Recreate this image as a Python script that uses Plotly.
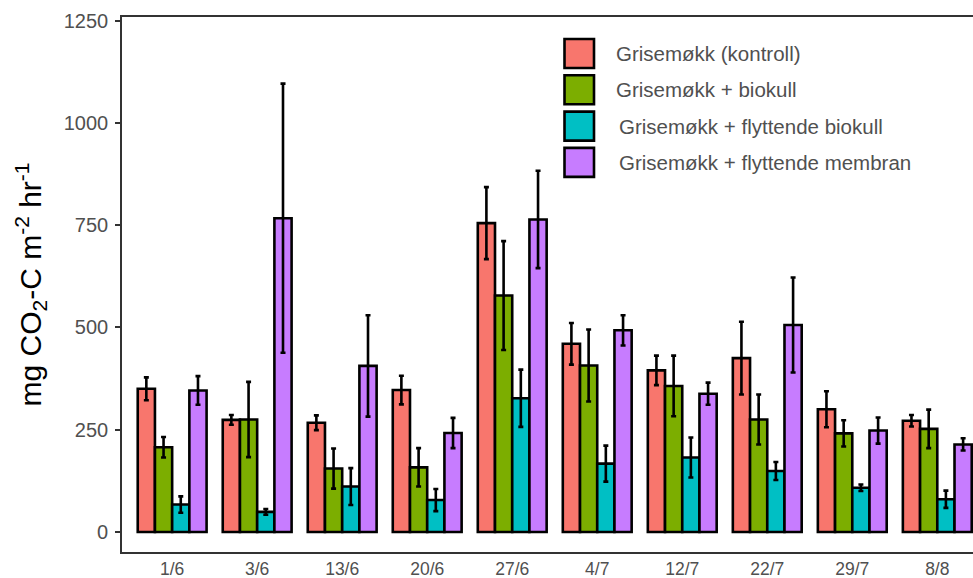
import plotly.graph_objects as go

# Sampling dates
dates = ["1/6", "3/6", "13/6", "20/6", "27/6", "4/7", "12/7", "22/7", "29/7", "8/8"]

# Treatments
treatments = [
    "Grisemøkk (kontroll)",
    "Grisemøkk + biokull",
    "Grisemøkk + flyttende biokull",
    "Grisemøkk + flyttende membran",
]

# Mean CO2-C flux (mg m-2 hr-1) per treatment
kontroll = [350, 274, 267, 347, 755, 460, 395, 425, 300, 272]
biokull = [207, 275, 155, 158, 578, 407, 357, 275, 241, 252]
flyt_biokull = [67, 49, 111, 78, 327, 167, 182, 149, 108, 80]
flyt_membran = [346, 767, 406, 242, 764, 493, 338, 506, 248, 214]

# Error bar half-widths
kontroll_err = [28, 12, 18, 35, 88, 51, 36, 89, 44, 14]
biokull_err = [25, 92, 49, 47, 133, 88, 74, 61, 32, 47]
flyt_biokull_err = [20, 7, 45, 27, 70, 44, 49, 22, 8, 21]
flyt_membran_err = [35, 329, 124, 37, 119, 37, 27, 116, 32, 15]

series = [kontroll, biokull, flyt_biokull, flyt_membran]
errors = [kontroll_err, biokull_err, flyt_biokull_err, flyt_membran_err]
colors = ["#F8766D", "#7CAE00", "#00BFC4", "#C77CFF"]

W, H = 973, 578
L, R, T, B = 122, 0, 17, 26
GREY = "#505050"
FONT = "Liberation Sans, Arial, sans-serif"

fig = go.Figure()
for name, vals, err, col in zip(treatments, series, errors, colors):
    fig.add_trace(go.Bar(
        x=dates, y=vals, name=name,
        marker=dict(color=col, line=dict(color="black", width=2.6)),
        error_y=dict(type="data", array=err, symmetric=True,
                     color="black", thickness=2.6, width=2.5),
        showlegend=False,
    ))

# Legend drawn as large outlined keys with labels
pw, ph = W - L - R, H - T - B
def px(x):
    return (x - L) / pw
def py(y):
    return (H - B - y) / ph

shapes, annotations = [], []
for i, (name, col) in enumerate(zip(treatments, colors)):
    top = 39 + i * 36.3
    shapes.append(dict(type="rect", xref="paper", yref="paper",
                       x0=px(564.5), x1=px(594), y0=py(top), y1=py(top + 29),
                       fillcolor=col, line=dict(color="black", width=2.6)))
    annotations.append(dict(xref="paper", yref="paper", x=px(614 + (3 if i >= 2 else 0)),
                            y=py(top + 14.5), text=name, showarrow=False,
                            xanchor="left", yanchor="middle",
                            font=dict(family=FONT, size=20.5, color=GREY)))

fig.update_layout(
    width=W, height=H,
    margin=dict(l=L, r=R, t=T, b=B, pad=0),
    plot_bgcolor="white", paper_bgcolor="white",
    barmode="group", bargap=0.19, bargroupgap=0,
    shapes=shapes, annotations=annotations,
    font=dict(family=FONT),
)
fig.update_xaxes(
    type="category", range=[-0.59, 9.42],
    showline=True, linecolor="#333333", linewidth=1.6, mirror=True,
    ticks="", showgrid=False, ticklabelstandoff=0,
    tickfont=dict(size=17.5, color=GREY),
)
fig.update_yaxes(
    range=[-49, 1259], tickvals=[0, 250, 500, 750, 1000, 1250],
    showline=True, linecolor="#333333", linewidth=1.6,
    ticks="outside", ticklen=5, tickwidth=1.6, tickcolor="#333333",
    ticklabelstandoff=3,
    showgrid=False, zeroline=False,
    tickfont=dict(size=20, color=GREY),
    title=dict(text="mg CO<sub>2</sub>-C m<sup>-2</sup> hr<sup>-1</sup>",
               font=dict(size=30, color="black"), standoff=13),
)

fig.write_html("out.html")
